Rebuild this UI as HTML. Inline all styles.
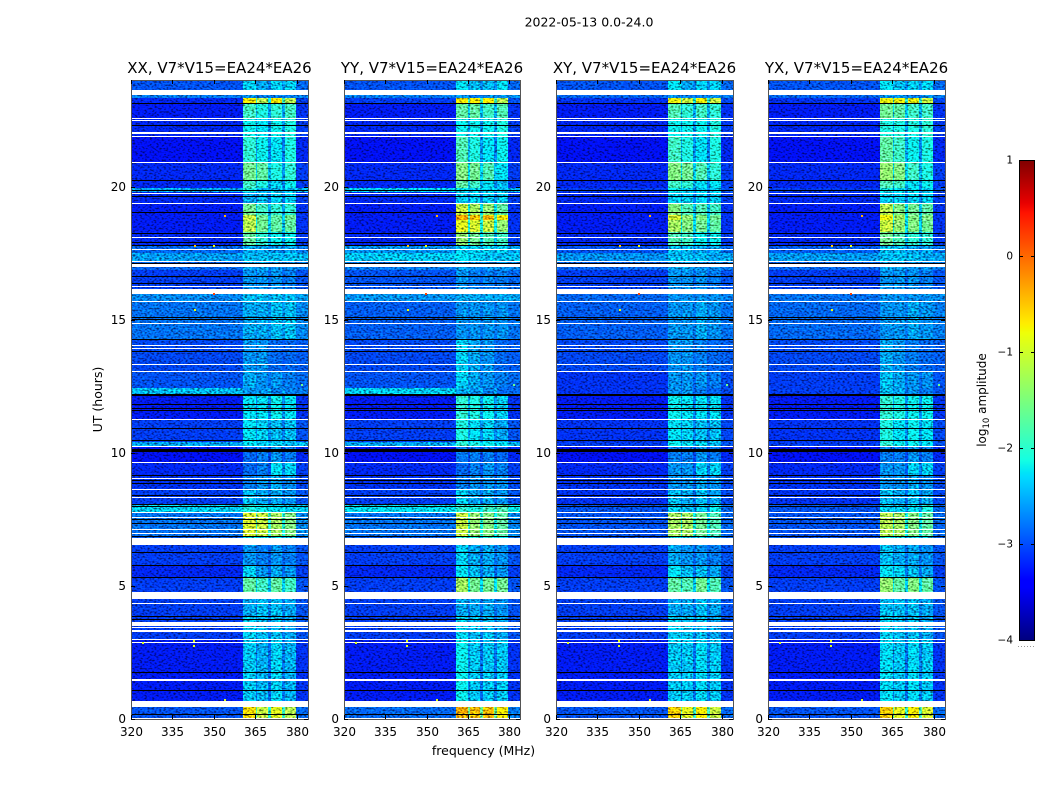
<!DOCTYPE html>
<html lang="en">
<head>
<meta charset="utf-8">
<title>2022-05-13 0.0-24.0</title>
<style>
html,body{margin:0;padding:0;background:#fff;width:1050px;height:800px;overflow:hidden}
svg{display:block}
text{font-family:"DejaVu Sans","Liberation Sans",sans-serif;fill:#000}
</style>
</head>
<body>
<svg id="chart" xmlns="http://www.w3.org/2000/svg" width="1050" height="800" viewBox="0 0 1050 800">
<defs>
<filter id="speckle" x="0" y="0" width="1" height="1" color-interpolation-filters="sRGB">
<feTurbulence type="fractalNoise" baseFrequency="0.42 0.6" numOctaves="1" seed="7" result="n"/>
<feColorMatrix in="n" type="matrix" values="1 0 0 0 0  1 0 0 0 0  1 0 0 0 0  0 0 0 0 1" result="g"/>
<feComponentTransfer in="g" result="c">
<feFuncR type="linear" slope="2.2" intercept="-0.6"/>
<feFuncG type="linear" slope="2.2" intercept="-0.6"/>
<feFuncB type="linear" slope="2.2" intercept="-0.6"/>
</feComponentTransfer>
<feComposite in="SourceGraphic" in2="c" operator="arithmetic" k1="1.1" k2="0.45" k3="0" k4="0"/>
</filter>
</defs>
<text x="589" y="26.5" text-anchor="middle" font-size="12.5">2022-05-13 0.0-24.0</text>
<text x="483.5" y="755" text-anchor="middle" font-size="12.5">frequency (MHz)</text>
<text x="102" y="399.5" text-anchor="middle" font-size="12.5" transform="rotate(-90 102 399.5)">UT (hours)</text>
<text x="986" y="400" text-anchor="middle" font-size="12" transform="rotate(-90 986 400)">log<tspan font-size="8.5" dy="3">10</tspan><tspan dy="-3"> amplitude</tspan></text>
<g id="panels"></g>
<g id="colorbar"></g>
</svg>
<script>
// ----- data -----
const panelNames = ['XX', 'YY', 'XY', 'YX'];
const titleSuffix = ', V7*V15=EA24*EA26';
const freqTicks = [320, 335, 350, 365, 380];
const utTicks = [0, 5, 10, 15, 20];
const cbarTicks = [1, 0, -1, -2, -3, -4];

// UT edges of the time bands, top to bottom (hours)
const bandEdges = [24,23.62,23.32,23.14,22.54,21.86,20.88,20.24,19.94,19.79,19.34,18.93,18.74,18.29,17.8,17.5,17.16,16.86,16.11,15.66,14.23,13.03,12.43,12.13,11.23,10.4,10.22,9.65,9.13,8.6,8.04,7.77,6.84,6.54,5.78,5.3,4.77,3.87,2.97,0.64,0];
// frequency extents (MHz) of the band-pass chunks
const chunkStart = [360.6, 365.7, 370.7, 375.8];
const chunkEnd = [365.1, 369.6, 374.7, 379.8];
const freqMin = 320;
const freqMax = 384;

// log10 amplitude per time band: off-chunk background and the four chunks
const xxBackground = [-3.0,-2.8,-3.2,-3.25,-3.2,-3.3,-3.2,-3.2,-2.6,-3.2,-3.25,-3.25,-3.25,-3.2,-2.9,-2.65,-2.9,-3.1,-2.75,-2.85,-3.05,-3.0,-2.5,-3.25,-3.1,-2.6,-3.3,-3.2,-3.15,-3.1,-2.4,-2.85,-2.95,-3.1,-3.2,-3.1,-3.1,-3.1,-3.25,-3.0];
const xxChunk1 = [-2.4,-2.7,-0.7,-1.9,-2.2,-2.0,-1.6,-1.9,-2.1,-2.6,-1.6,-1.1,-1.2,-1.7,-2.6,-2.5,-2.6,-2.7,-2.5,-2.6,-2.7,-2.6,-2.7,-2.3,-2.3,-2.3,-2.9,-2.9,-2.8,-2.5,-2.1,-1.0,-2.3,-2.7,-2.4,-1.7,-2.6,-2.4,-2.45,-0.6];
const xxChunk2 = [-2.6,-2.8,-1.2,-2.1,-2.3,-2.2,-1.7,-2.1,-2.6,-2.5,-1.9,-1.6,-1.6,-2.0,-2.6,-2.5,-2.6,-2.7,-2.5,-2.6,-2.7,-2.7,-2.7,-2.3,-2.4,-2.4,-2.8,-2.8,-2.7,-2.6,-2.2,-1.1,-2.3,-2.8,-2.7,-1.9,-2.5,-2.5,-2.55,-1.1];
const xxChunk3 = [-2.4,-2.8,-0.7,-2.0,-2.2,-2.3,-2.1,-2.4,-2.5,-2.4,-2.0,-1.7,-1.7,-2.2,-2.7,-2.5,-2.7,-2.7,-2.5,-2.5,-2.9,-2.7,-2.8,-2.2,-2.5,-2.4,-2.7,-2.3,-2.6,-2.6,-2.3,-1.3,-2.3,-2.7,-2.6,-1.7,-2.5,-2.5,-2.4,-0.9];
const xxChunk4 = [-2.4,-2.8,-1.2,-1.9,-2.1,-2.1,-2.0,-2.2,-2.5,-2.4,-2.0,-1.6,-1.7,-2.2,-2.6,-2.5,-2.7,-2.8,-2.5,-2.5,-2.9,-2.8,-2.8,-2.3,-2.5,-2.5,-2.8,-2.4,-2.7,-2.7,-2.4,-1.5,-2.4,-2.8,-2.7,-1.9,-2.6,-2.6,-2.55,-1.2];

const yyBackground = [-3.0,-2.8,-3.1,-3.25,-3.2,-3.3,-3.2,-3.2,-2.4,-3.2,-3.25,-3.25,-3.25,-3.2,-2.7,-2.45,-2.8,-3.0,-2.7,-2.95,-3.05,-3.0,-2.4,-3.25,-3.1,-2.6,-3.3,-3.2,-3.15,-3.1,-2.3,-2.85,-2.95,-3.1,-3.2,-3.1,-3.1,-3.1,-3.25,-2.9];
const yyChunk1 = [-2.3,-2.7,-0.7,-1.7,-2.2,-1.8,-1.5,-1.7,-2.3,-2.4,-1.1,-0.3,-0.9,-1.4,-2.4,-2.3,-2.6,-2.7,-2.6,-2.7,-2.4,-2.4,-2.6,-2.0,-2.1,-2.0,-2.8,-2.9,-2.8,-2.4,-2.0,-1.1,-2.0,-2.4,-2.3,-1.3,-2.6,-2.35,-2.2,-0.3];
const yyChunk2 = [-2.5,-2.8,-0.7,-1.7,-2.2,-2.1,-1.6,-1.9,-2.4,-2.4,-1.3,-0.4,-1.0,-1.6,-2.4,-2.4,-2.7,-2.8,-2.6,-2.7,-2.6,-2.6,-2.7,-2.1,-2.3,-2.1,-2.8,-2.8,-2.7,-2.6,-2.1,-1.4,-2.1,-2.6,-2.5,-1.6,-2.6,-2.5,-2.45,-0.4];
const yyChunk3 = [-2.5,-2.7,-0.7,-1.9,-2.2,-2.3,-1.8,-2.3,-2.4,-2.4,-1.4,-0.4,-1.1,-1.8,-2.4,-2.5,-2.7,-2.8,-2.6,-2.7,-2.7,-2.7,-2.8,-2.2,-2.4,-2.2,-2.8,-2.7,-2.7,-2.6,-1.9,-1.5,-2.1,-2.6,-2.6,-1.6,-2.6,-2.5,-2.45,-0.4];
const yyChunk4 = [-2.3,-2.7,-1.2,-1.8,-2.1,-2.2,-2.3,-2.5,-2.5,-2.4,-1.7,-0.7,-1.4,-1.9,-2.4,-2.5,-2.7,-2.8,-2.6,-2.7,-2.9,-2.8,-2.9,-2.4,-2.6,-2.3,-2.9,-2.8,-2.7,-2.7,-1.8,-1.7,-2.3,-2.7,-2.7,-1.6,-2.7,-2.6,-2.45,-0.7];

const xyBackground = [-3.0,-2.9,-3.15,-3.25,-3.2,-3.3,-3.2,-3.2,-3.1,-3.2,-3.25,-3.25,-3.25,-3.2,-3.0,-2.7,-2.9,-3.1,-2.9,-2.95,-3.05,-3.15,-3.15,-3.25,-3.15,-3.1,-3.3,-3.2,-3.15,-3.15,-3.0,-3.0,-3.0,-3.1,-3.2,-3.1,-3.1,-3.1,-3.25,-3.0];
const xyChunk1 = [-2.3,-2.7,-0.8,-1.8,-2.2,-1.9,-1.5,-1.9,-2.2,-2.4,-1.5,-1.0,-1.3,-1.8,-2.5,-2.5,-2.6,-2.7,-2.7,-2.7,-2.7,-2.7,-2.7,-2.2,-2.3,-2.2,-2.8,-2.7,-2.7,-2.5,-2.4,-1.3,-2.3,-2.6,-2.3,-1.7,-2.6,-2.4,-2.45,-0.5];
const xyChunk2 = [-2.6,-2.8,-1.1,-2.0,-2.2,-2.1,-1.6,-2.0,-2.4,-2.4,-1.8,-1.4,-1.5,-1.9,-2.5,-2.5,-2.6,-2.7,-2.7,-2.7,-2.7,-2.7,-2.7,-2.3,-2.4,-2.3,-2.8,-2.7,-2.7,-2.6,-2.5,-1.3,-2.4,-2.7,-2.5,-1.8,-2.6,-2.45,-2.45,-0.9];
const xyChunk3 = [-2.4,-2.8,-0.8,-1.9,-2.2,-2.3,-1.8,-2.3,-2.4,-2.4,-1.8,-1.5,-1.6,-2.2,-2.6,-2.5,-2.7,-2.7,-2.7,-2.6,-2.8,-2.7,-2.8,-2.3,-2.5,-2.3,-2.7,-2.4,-2.6,-2.5,-2.4,-1.6,-2.4,-2.7,-2.5,-1.6,-2.5,-2.5,-2.35,-0.7];
const xyChunk4 = [-2.4,-2.7,-1.1,-2.0,-2.1,-2.1,-2.0,-2.3,-2.4,-2.4,-1.9,-1.6,-1.7,-2.2,-2.6,-2.6,-2.7,-2.8,-2.7,-2.7,-2.9,-2.8,-2.9,-2.3,-2.5,-2.5,-2.8,-2.4,-2.7,-2.6,-2.2,-1.8,-2.5,-2.8,-2.6,-1.8,-2.6,-2.6,-2.45,-1.1];

const yxBackground = [-3.0,-2.9,-3.15,-3.25,-3.2,-3.3,-3.2,-3.2,-3.1,-3.2,-3.25,-3.25,-3.25,-3.2,-2.95,-2.65,-2.9,-3.1,-2.85,-2.9,-3.05,-3.1,-3.1,-3.25,-3.15,-3.1,-3.3,-3.2,-3.15,-3.15,-3.0,-3.0,-3.0,-3.1,-3.2,-3.1,-3.1,-3.1,-3.25,-3.0];
const yxChunk1 = [-2.3,-2.7,-0.8,-1.6,-2.1,-1.7,-1.4,-1.8,-2.2,-2.4,-1.2,-0.8,-1.1,-1.6,-2.5,-2.5,-2.6,-2.7,-2.7,-2.7,-2.6,-2.5,-2.5,-2.0,-2.1,-2.0,-2.8,-2.7,-2.7,-2.5,-2.4,-1.2,-2.2,-2.5,-2.3,-1.4,-2.5,-2.4,-2.35,-0.5];
const yxChunk2 = [-2.5,-2.7,-0.8,-1.7,-2.1,-1.9,-1.5,-1.9,-2.3,-2.4,-1.5,-1.3,-1.4,-1.8,-2.5,-2.5,-2.6,-2.7,-2.7,-2.7,-2.7,-2.6,-2.6,-2.1,-2.3,-2.2,-2.8,-2.7,-2.7,-2.6,-2.4,-1.3,-2.3,-2.6,-2.4,-1.7,-2.5,-2.5,-2.45,-0.9];
const yxChunk3 = [-2.4,-2.8,-0.8,-1.9,-2.1,-2.2,-1.9,-2.3,-2.3,-2.4,-1.6,-1.5,-1.5,-2.0,-2.6,-2.5,-2.7,-2.7,-2.7,-2.6,-2.8,-2.7,-2.7,-2.2,-2.2,-2.2,-2.7,-2.4,-2.6,-2.5,-2.3,-1.5,-2.4,-2.6,-2.5,-1.5,-2.5,-2.5,-2.35,-0.7];
const yxChunk4 = [-2.4,-2.7,-1.1,-1.9,-2.0,-2.1,-2.1,-2.2,-2.4,-2.4,-1.7,-1.5,-1.6,-2.0,-2.6,-2.6,-2.7,-2.8,-2.7,-2.7,-2.9,-2.7,-2.8,-2.2,-2.3,-2.3,-2.8,-2.4,-2.7,-2.6,-2.1,-1.7,-2.4,-2.7,-2.6,-1.7,-2.6,-2.6,-2.45,-1.0];

// isolated interference pixels seen in the panels
const spotFreqs = [342.4, 342.4, 324, 353.6, 342.8, 349.6, 353.6, 349.6, 342.8, 381.5];
const spotHours = [2.97, 2.78, 2.9, 0.75, 17.8, 17.8, 18.93, 16.0, 15.4, 12.6];
const spotLevels = [-0.9, -0.9, -0.9, -0.9, -0.5, -0.8, -0.4, 0.2, -0.8, -1.6];

// rows with no data (centre UT, duration in hours), shared by every panel
const flaggedCentres = [23.53,22.55,22.47,22.02,21.88,20.91,19.74,19.36,18.09,17.65,17.2,17.03,16.26,16.05,15.67,14.86,14.02,13.92,13.31,13.06,11.26,10.23,9.64,9.04,8.63,8.33,7.77,7.58,7.12,6.97,6.7,6.56,4.65,4.35,3.58,3.43,3.31,2.99,2.89,1.48,0.58,0.45,0.03];
const flaggedDurations = [0.19,0.045,0.045,0.075,0.045,0.04,0.05,0.04,0.04,0.04,0.04,0.13,0.04,0.18,0.04,0.04,0.04,0.04,0.04,0.04,0.04,0.04,0.04,0.04,0.04,0.04,0.04,0.04,0.04,0.04,0.21,0.04,0.27,0.04,0.16,0.04,0.08,0.04,0.04,0.07,0.17,0.04,0.04];
// rows with zero amplitude (centre UT, duration in hours)
const zeroCentres = [23.12,22.28,20.23,19.83,19.64,19.02,18.23,17.9,17.8,17.12,16.61,16.36,15.08,15.0,14.26,13.81,12.16,11.82,11.67,11.57,10.92,10.45,10.07,9.16,8.94,8.85,8.39,8.05,8.0,7.5,7.35,6.85,6.26,5.77,5.3,3.84,3.74,1.75,1.08,0.18];
const zeroDurations = [0.05,0.05,0.04,0.04,0.04,0.04,0.04,0.04,0.04,0.05,0.04,0.04,0.04,0.04,0.04,0.04,0.08,0.04,0.04,0.04,0.04,0.04,0.13,0.04,0.04,0.04,0.04,0.03,0.03,0.03,0.03,0.04,0.04,0.04,0.04,0.045,0.045,0.04,0.04,0.05];

const panelBackgrounds = [xxBackground, yyBackground, xyBackground, yxBackground];
const panelChunks = [
  [xxChunk1, xxChunk2, xxChunk3, xxChunk4],
  [yyChunk1, yyChunk2, yyChunk3, yyChunk4],
  [xyChunk1, xyChunk2, xyChunk3, xyChunk4],
  [yxChunk1, yxChunk2, yxChunk3, yxChunk4]
];

// ----- layout and axis functions -----
const NS = 'http://www.w3.org/2000/svg';
const axTop = 80, axBottom = 719;
const cbLeft = 1019, cbRight = 1035, cbTop = 160, cbBottom = 640;
const axLeft = i => Math.round(131.4 + 212.33 * i);
const axWidth = i => (i === 1 ? 176 : 177);
const xScale = (f, i) => axLeft(i) + (f - freqMin) / (freqMax - freqMin) * axWidth(i);
const yScale = ut => axBottom - ut / 24 * (axBottom - axTop);
const cbScale = v => cbBottom - (v + 4) / 5 * (cbBottom - cbTop);

function jet(v) {
  const t = Math.min(1, Math.max(0, (v + 4) / 5));
  const ramp = (a, b, x) => Math.min(1, Math.max(0, (x - a) / (b - a)));
  const r = t < 0.89 ? ramp(0.35, 0.66, t) : 1 - 0.5 * ramp(0.89, 1, t);
  const g = t < 0.64 ? ramp(0.125, 0.375, t) : 1 - ramp(0.64, 0.91, t);
  const b = t < 0.34 ? 0.5 + 0.5 * ramp(0, 0.11, t) : 1 - ramp(0.34, 0.65, t);
  return 'rgb(' + Math.round(r * 255) + ',' + Math.round(g * 255) + ',' + Math.round(b * 255) + ')';
}

function make(tag, geometry, parent) {
  const node = document.createElementNS(NS, tag);
  Object.keys(geometry).forEach(k => node.setAttribute(k, geometry[k]));
  parent.appendChild(node);
  return node;
}

function cell(parent, x0, x1, ut0, ut1, v) {
  const left = Math.round(x0), right = Math.round(x1);
  const top = Math.round(yScale(ut0)), bottom = Math.round(yScale(ut1));
  if (right <= left || bottom <= top) return;
  const r = make('rect', {x: left, y: top, width: right - left, height: bottom - top, fill: jet(v), 'shape-rendering': 'crispEdges'}, parent);
  
  
}

function rowLine(parent, i, centre, duration, colour, name) {
  const top = Math.round(yScale(centre + duration / 2));
  const h = Math.max(1, Math.round(duration / 24 * (axBottom - axTop)));
  const r = make('rect', {x: axLeft(i) + 1, y: top, width: axWidth(i) - 1, height: h, fill: colour, 'shape-rendering': 'crispEdges'}, parent);
  
  
}

function tick(parent, x1, y1, x2, y2) {
  const l = make('line', {x1: x1, y1: y1, x2: x2, y2: y2, stroke: '#000', 'stroke-width': 1, 'shape-rendering': 'crispEdges'}, parent);
  
  
}

function label(parent, x, y, anchor, size, str, name) {
  const t = make('text', {x: x, y: y, 'text-anchor': anchor, 'font-size': size}, parent);
  t.textContent = str;
  
  
}

const fmt = v => String(v).replace('-', '\u2212');

// ----- panels -----
const panelsRoot = document.getElementById('panels');
panelNames.forEach((name, i) => {
  const g = make('g', {}, panelsRoot);
  
  

  const heat = make('g', {filter: 'url(#speckle)'}, g);
  
  

  const bg = panelBackgrounds[i];
  const chunks = panelChunks[i];
  bg.forEach((level, b) => {
    const ut0 = bandEdges[b], ut1 = bandEdges[b + 1];
    cell(heat, xScale(freqMin, i), xScale(chunkStart[0], i), ut0, ut1, level);
    chunks.forEach((series, c) => {
      cell(heat, xScale(chunkStart[c], i), xScale(chunkEnd[c], i), ut0, ut1, series[b]);
      const gapEnd = c < 3 ? chunkStart[c + 1] : freqMax;
      const gapLevel = c < 3 ? (level + series[b]) / 2 : Math.min(level + 0.1, series[b]);
      cell(heat, xScale(chunkEnd[c], i), xScale(gapEnd, i), ut0, ut1, gapLevel);
    });
  });

  flaggedCentres.forEach((c, k) => rowLine(g, i, c, flaggedDurations[k], '#fff', 'flagged-row'));
  zeroCentres.forEach((c, k) => rowLine(g, i, c, zeroDurations[k], '#000', 'zero-amplitude-row'));

  spotFreqs.forEach((f, k) => {
    const s = make('rect', {x: Math.round(xScale(f, i)), y: Math.round(yScale(spotHours[k])), width: 2, height: 2, fill: jet(spotLevels[k]), 'shape-rendering': 'crispEdges'}, g);
    
    
  });

  const frame = make('rect', {x: axLeft(i) + 0.5, y: axTop + 0.5, width: axWidth(i), height: axBottom - axTop, fill: 'none', stroke: '#555', 'stroke-width': 1, 'shape-rendering': 'crispEdges'}, g);
  
  

  freqTicks.forEach(f => {
    const x = Math.round(xScale(f, i)) + 0.5;
    tick(g, x, axBottom, x, axBottom - 4);
    tick(g, x, axTop, x, axTop + 4);
    label(g, x, 736, 'middle', 12, String(f), 'x-tick-label');
  });
  utTicks.forEach(u => {
    const y = Math.round(yScale(u)) + 0.5;
    tick(g, axLeft(i), y, axLeft(i) + 4, y);
    tick(g, axLeft(i) + axWidth(i), y, axLeft(i) + axWidth(i) - 4, y);
    label(g, axLeft(i) - 5, y + 3.5, 'end', 12, String(u), 'y-tick-label');
  });
  label(g, axLeft(i) + axWidth(i) / 2, 73, 'middle', 15, name + titleSuffix, 'panel-title');
});

// ----- colorbar -----
const cbRoot = document.getElementById('colorbar');
for (let y = cbTop; y < cbBottom; y++) {
  const v = 1 - (y - cbTop + 0.5) / (cbBottom - cbTop) * 5;
  const s = make('rect', {x: cbLeft, y: y, width: cbRight - cbLeft, height: 1, fill: jet(v), 'shape-rendering': 'crispEdges'}, cbRoot);
  
  
}
const cbFrame = make('rect', {x: cbLeft + 0.5, y: cbTop + 0.5, width: cbRight - cbLeft - 1, height: cbBottom - cbTop, fill: 'none', stroke: '#000', 'stroke-width': 1, 'shape-rendering': 'crispEdges'}, cbRoot);


cbarTicks.forEach(v => {
  const y = Math.round(cbScale(v)) + 0.5;
  tick(cbRoot, cbLeft, y, cbLeft + 4, y);
  tick(cbRoot, cbRight, y, cbRight - 4, y);
  label(cbRoot, cbLeft - 6, y + 3, 'end', 10.5, fmt(v), 'colorbar-tick-label');
});
const cbDots = make('line', {x1: 1018, y1: 646.5, x2: 1035, y2: 646.5, stroke: '#999', 'stroke-width': 1, 'stroke-dasharray': '1 2', 'shape-rendering': 'crispEdges'}, cbRoot);


</script>
</body>
</html>
